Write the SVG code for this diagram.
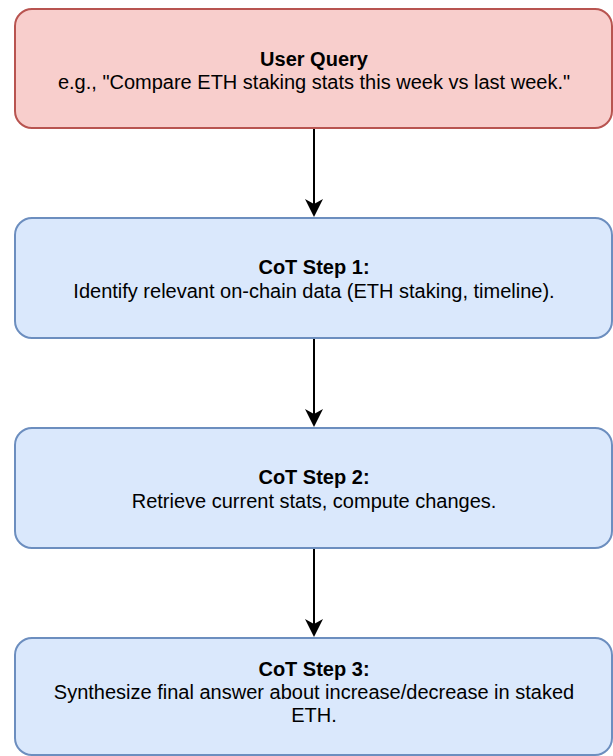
<svg xmlns="http://www.w3.org/2000/svg" width="613" height="756" viewBox="0 0 613 756">
  <style>
    .query { fill: #f8cecc; stroke: #b85450; stroke-width: 2; }
    .step { fill: #dae8fc; stroke: #6c8ebf; stroke-width: 2; }
    .label { font-family: "Liberation Sans", Arial, sans-serif; font-size: 20px; fill: #000; text-anchor: middle; }
    .title { font-weight: bold; }
    .edge { stroke: #000; stroke-width: 2; fill: none; }
    .head { fill: #000; }
  </style>
  <rect width="613" height="756" fill="#ffffff"/>

  <g id="connectors">
    <line class="edge" x1="314" y1="128" x2="314" y2="208"/>
    <path class="head" d="M305,199 L314,217 L323,199 L314,204 Z"/>
    <line class="edge" x1="314" y1="338" x2="314" y2="418"/>
    <path class="head" d="M305,409 L314,427 L323,409 L314,414 Z"/>
    <line class="edge" x1="314" y1="548" x2="314" y2="628"/>
    <path class="head" d="M305,619 L314,637 L323,619 L314,624 Z"/>
  </g>

  <g id="user-query">
    <rect class="query" x="15" y="9" width="597" height="119" rx="17" ry="17"/>
    <text class="label title" x="314" y="66">User Query</text>
    <text class="label" x="314" y="89">e.g., "Compare ETH staking stats this week vs last week."</text>
  </g>

  <g id="cot-step-1">
    <rect class="step" x="15" y="218" width="597" height="120" rx="17" ry="17"/>
    <text class="label title" x="314" y="274">CoT Step 1:</text>
    <text class="label" x="314" y="298">Identify relevant on-chain data (ETH staking, timeline).</text>
  </g>

  <g id="cot-step-2">
    <rect class="step" x="15" y="428" width="597" height="120" rx="17" ry="17"/>
    <text class="label title" x="314" y="484">CoT Step 2:</text>
    <text class="label" x="314" y="508">Retrieve current stats, compute changes.</text>
  </g>

  <g id="cot-step-3">
    <rect class="step" x="15" y="638" width="597" height="117" rx="17" ry="17"/>
    <text class="label title" x="314" y="676">CoT Step 3:</text>
    <text class="label" x="314" y="699">Synthesize final answer about increase/decrease in staked</text>
    <text class="label" x="314" y="722">ETH.</text>
  </g>
</svg>
